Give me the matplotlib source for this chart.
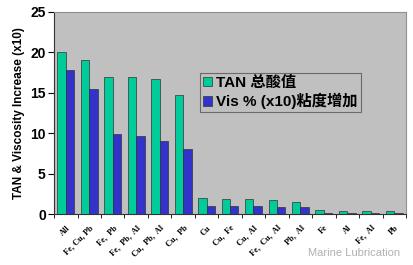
import numpy as np
import matplotlib
matplotlib.use("Agg")
import matplotlib.pyplot as plt

plt.rcParams['font.family'] = ['Liberation Sans', 'Noto Sans CJK SC']

cats = ["All", "Fe, Cu, Pb", "Fe,  Pb", "Fe,  Pb,  Al", "Cu,  Pb,  Al", "Cu,  Pb", "Cu",
        "Cu,  Fe", "Cu,  Al", "Fe,  Cu,  Al", "Pb,  Al", "Fe", "Al", "Fe,  Al", "Pb"]
tan = [20.0, 19.0, 17.0, 17.0, 16.7, 14.7, 2.0, 1.9, 1.9, 1.7, 1.5, 0.45, 0.4, 0.4, 0.4]
vis = [17.8, 15.5, 9.9, 9.7, 9.0, 8.0, 0.95, 0.95, 0.95, 0.85, 0.85, 0.2, 0.2, 0.2, 0.2]

fig = plt.figure(figsize=(4.13, 2.65), dpi=100)
ax = fig.add_axes([0.131, 0.192, 0.852, 0.763])
ax.set_facecolor('#c0c0c0')

x = np.arange(len(cats))
w = 0.36
ax.bar(x - w / 2, tan, w, color='#00cc99', edgecolor='#333333', linewidth=0.5, label='TAN 总酸值')
ax.bar(x + w / 2, vis, w, color='#3333cc', edgecolor='#333333', linewidth=0.5, label='Vis % (x10)粘度增加')

ax.set_xlim(-0.5, len(cats) - 0.5)
ax.set_ylim(0, 25)
ax.set_yticks([0, 5, 10, 15, 20, 25])
ax.tick_params(axis='y', labelsize=10, length=4, width=0.8, pad=2)
for t in ax.get_yticklabels():
    t.set_fontweight('bold')

ax.set_xticks(x)
ax.set_xticklabels(cats, rotation=45, ha='right', rotation_mode='anchor',
                   fontsize=6, family='Liberation Serif', fontweight='bold')
ax.tick_params(axis='x', length=0, pad=7)
ax.set_xticks(np.arange(len(cats) + 1) - 0.5, minor=True)
ax.tick_params(axis='x', which='minor', length=3, width=0.6)

ax.set_ylabel('TAN & Viscosity Increase (x10)', fontsize=8.5, fontweight='bold', labelpad=4)

for s in ['top', 'right']:
    ax.spines[s].set_color('#909090')
ax.spines['left'].set_color('#333333')
ax.spines['bottom'].set_color('#333333')

leg = ax.legend(loc='upper left', bbox_to_anchor=(0.415, 0.70),
                prop={'weight': 'bold', 'size': 11}, frameon=True, fancybox=False,
                handlelength=0.6, handleheight=0.6, handletextpad=0.25,
                borderpad=0.2, labelspacing=0.2, borderaxespad=0)
leg.get_frame().set_facecolor('#c0c0c0')
leg.get_frame().set_edgecolor('#555555')
leg.get_frame().set_linewidth(0.8)

fig.text(0.97, 0.025, 'Marine Lubrication', ha='right', va='bottom', fontsize=8, color='#b0b0b0')

fig.savefig('out.png', dpi=100)
